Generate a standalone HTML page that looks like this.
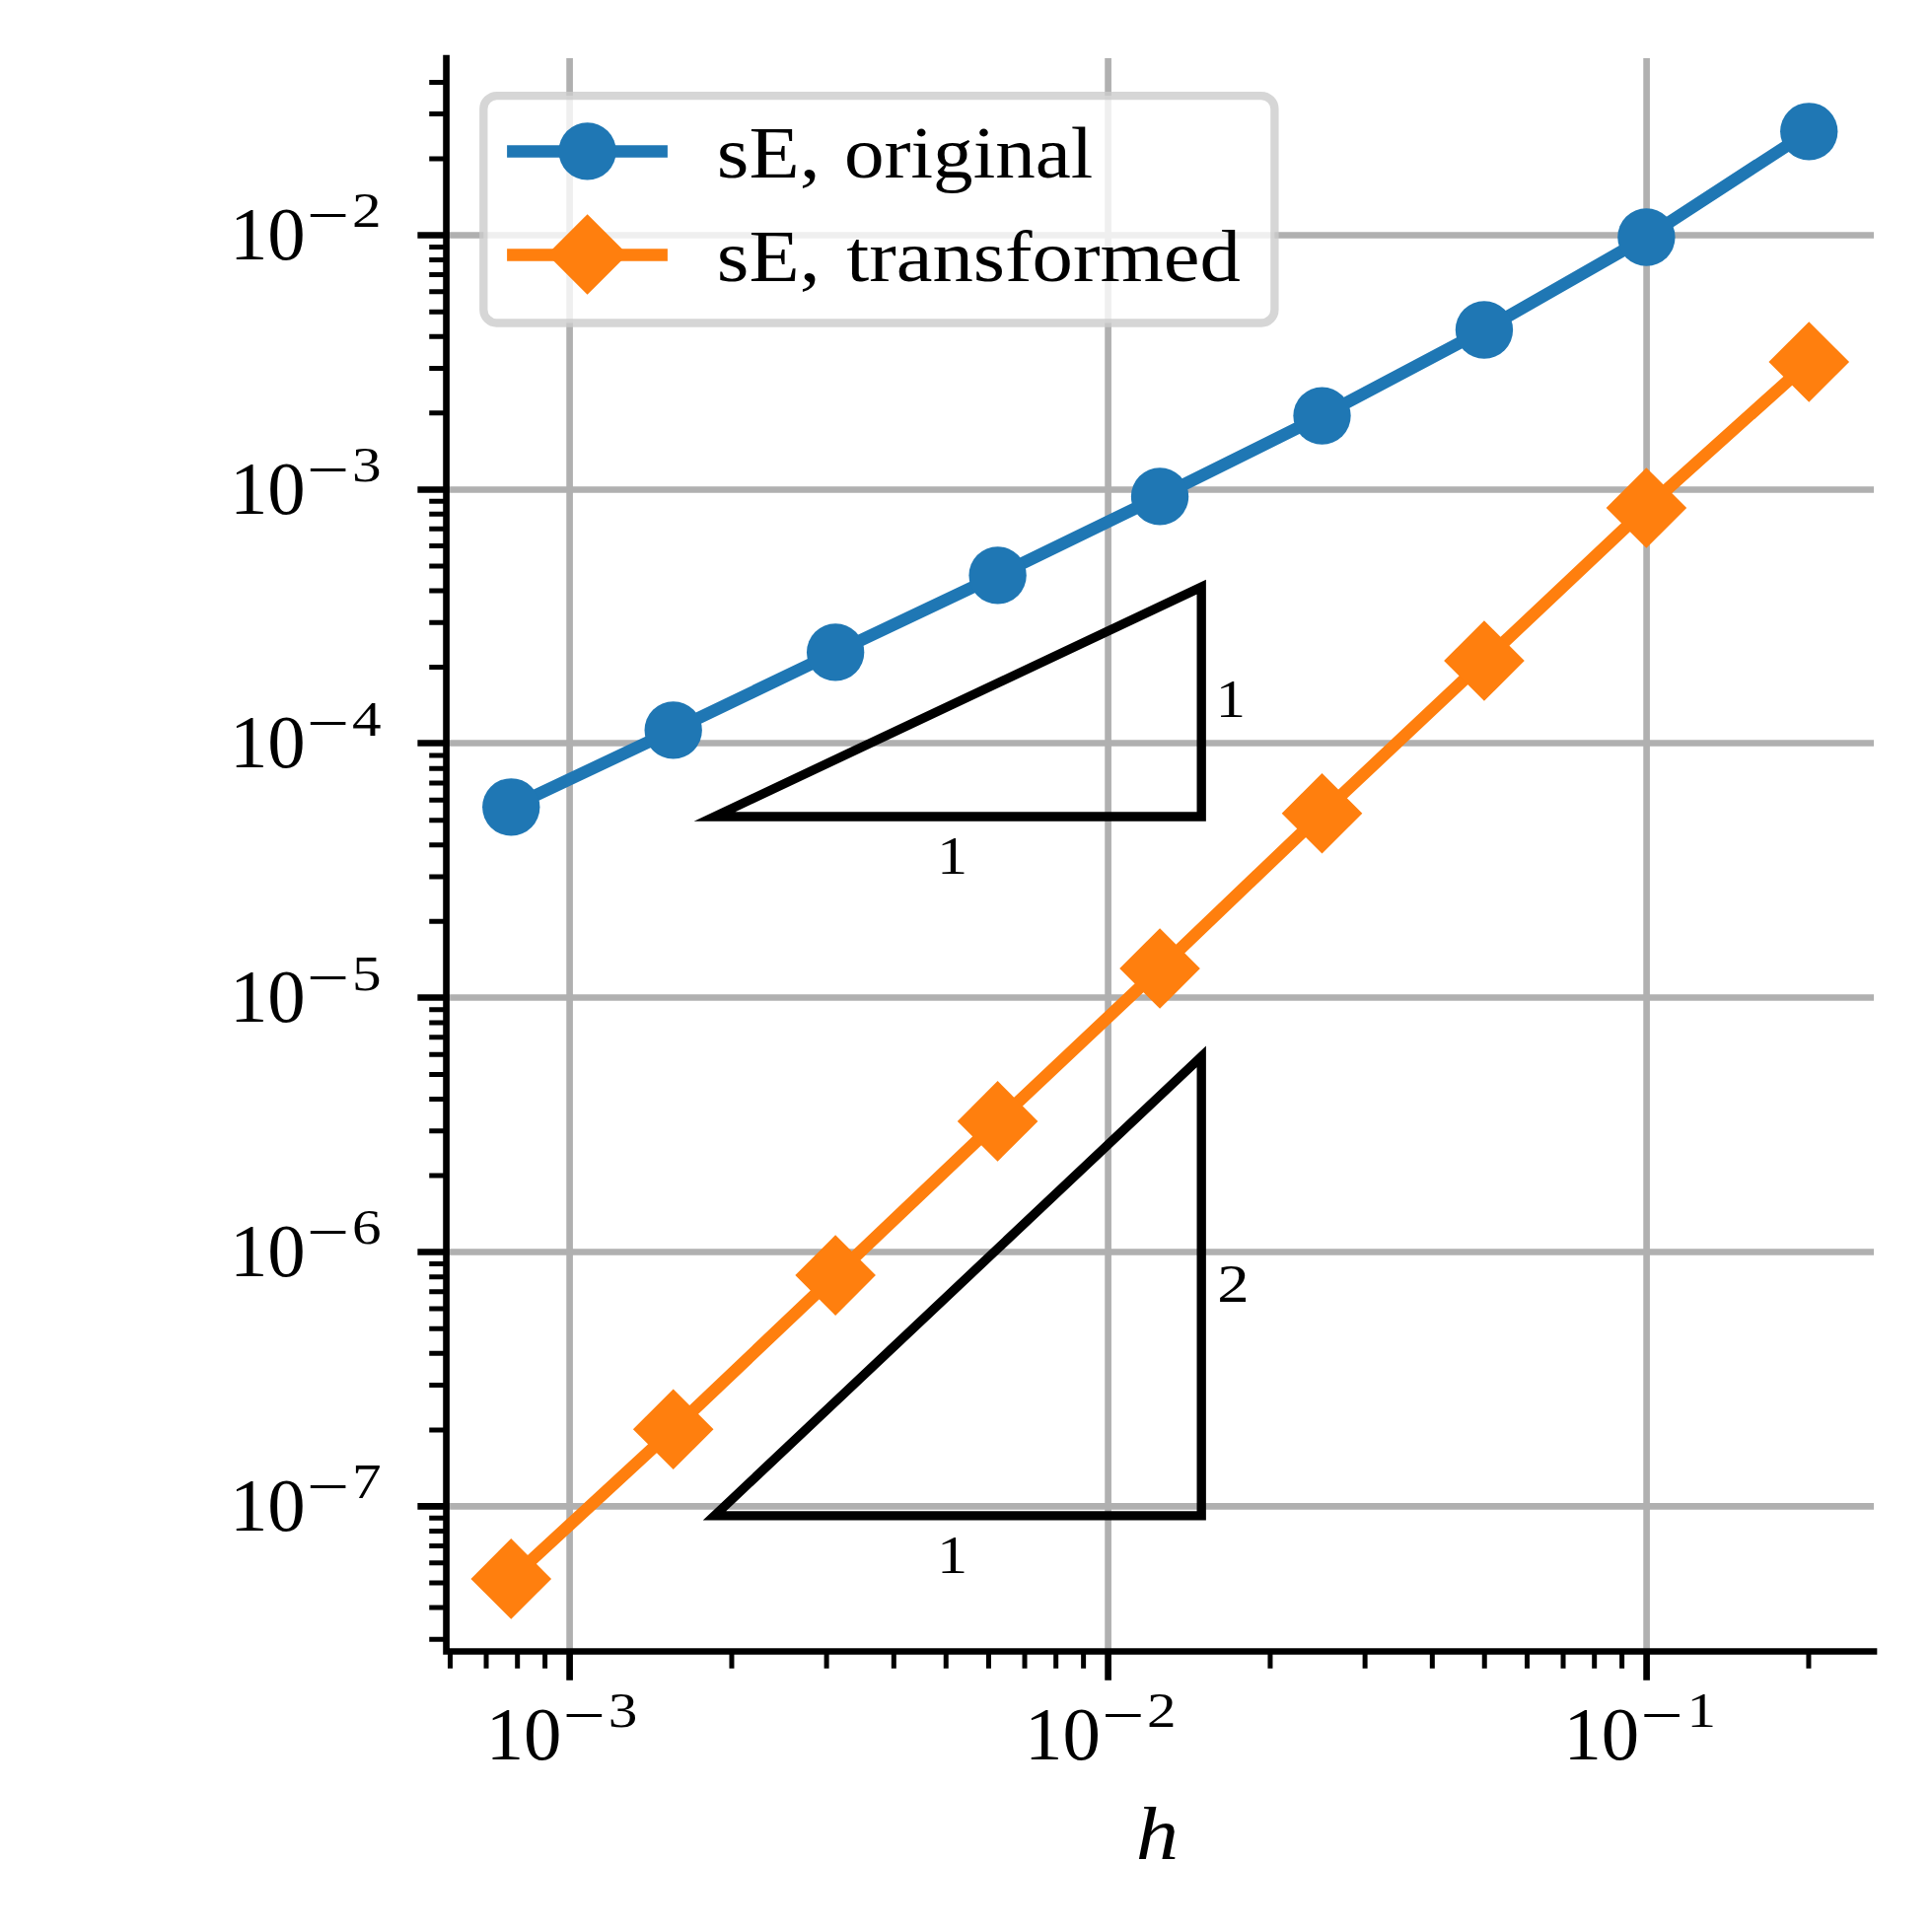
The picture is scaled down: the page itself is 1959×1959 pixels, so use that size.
<!DOCTYPE html>
<html lang="en"><head><meta charset="utf-8"><title>Convergence plot</title>
<style>html,body{margin:0;padding:0;background:#fff;overflow:hidden}svg{display:block}text{white-space:pre}</style>
</head><body>
<svg width="1959" height="1959" viewBox="0 0 1959 1959">
<rect width="1959" height="1959" fill="#fff"/>
<path d="M577.60 59.0V1674.5M1123.60 59.0V1674.5M1669.60 59.0V1674.5M452.55 1527.40H1900.0M452.55 1269.50H1900.0M452.55 1011.50H1900.0M452.55 753.50H1900.0M452.55 496.50H1900.0M452.55 238.50H1900.0" stroke="#b0b0b0" stroke-width="6.67" fill="none"/>
<path d="M724.5 828.0L1218.2 828.0L1218.2 595.2Z" fill="none" stroke="#000" stroke-width="9.35" stroke-linejoin="miter" stroke-miterlimit="20"/>
<path d="M724.5 1536.9L1218.2 1536.9L1218.2 1071.3Z" fill="none" stroke="#000" stroke-width="9.35" stroke-linejoin="miter" stroke-miterlimit="20"/>
<polyline points="1834.25,133.30 1669.40,240.50 1504.95,334.50 1340.50,421.60 1176.05,503.40 1011.60,583.40 847.15,661.40 682.70,740.40 518.25,818.30" fill="none" stroke="#1f77b4" stroke-width="12.5" stroke-linejoin="round" stroke-linecap="square"/>
<circle cx="1834.25" cy="133.30" r="29.17" fill="#1f77b4"/>
<circle cx="1669.40" cy="240.50" r="29.17" fill="#1f77b4"/>
<circle cx="1504.95" cy="334.50" r="29.17" fill="#1f77b4"/>
<circle cx="1340.50" cy="421.60" r="29.17" fill="#1f77b4"/>
<circle cx="1176.05" cy="503.40" r="29.17" fill="#1f77b4"/>
<circle cx="1011.60" cy="583.40" r="29.17" fill="#1f77b4"/>
<circle cx="847.15" cy="661.40" r="29.17" fill="#1f77b4"/>
<circle cx="682.70" cy="740.40" r="29.17" fill="#1f77b4"/>
<circle cx="518.25" cy="818.30" r="29.17" fill="#1f77b4"/>
<polyline points="1834.25,367.00 1669.40,515.00 1504.95,670.00 1340.50,824.70 1176.05,982.00 1011.60,1136.90 847.15,1293.10 682.70,1449.30 518.25,1600.90" fill="none" stroke="#ff7f0e" stroke-width="12.5" stroke-linejoin="round" stroke-linecap="square"/>
<path d="M1834.25 326.20L1875.05 367.00L1834.25 407.80L1793.45 367.00Z" fill="#ff7f0e"/>
<path d="M1669.40 474.20L1710.20 515.00L1669.40 555.80L1628.60 515.00Z" fill="#ff7f0e"/>
<path d="M1504.95 629.20L1545.75 670.00L1504.95 710.80L1464.15 670.00Z" fill="#ff7f0e"/>
<path d="M1340.50 783.90L1381.30 824.70L1340.50 865.50L1299.70 824.70Z" fill="#ff7f0e"/>
<path d="M1176.05 941.20L1216.85 982.00L1176.05 1022.80L1135.25 982.00Z" fill="#ff7f0e"/>
<path d="M1011.60 1096.10L1052.40 1136.90L1011.60 1177.70L970.80 1136.90Z" fill="#ff7f0e"/>
<path d="M847.15 1252.30L887.95 1293.10L847.15 1333.90L806.35 1293.10Z" fill="#ff7f0e"/>
<path d="M682.70 1408.50L723.50 1449.30L682.70 1490.10L641.90 1449.30Z" fill="#ff7f0e"/>
<path d="M518.25 1560.10L559.05 1600.90L518.25 1641.70L477.45 1600.90Z" fill="#ff7f0e"/>
<path d="M452.55 55.66V1677.84M449.22 1674.5H1903.34" stroke="#000" stroke-width="6.67" fill="none"/>
<path d="M577.60 1674.5v29.17M1123.60 1674.5v29.17M1669.60 1674.5v29.17M452.55 1527.40h-29.17M452.55 1269.50h-29.17M452.55 1011.50h-29.17M452.55 753.50h-29.17M452.55 496.50h-29.17M452.55 238.50h-29.17" stroke="#000" stroke-width="6.67" fill="none"/>
<path d="M456.47 1674.5v17.3M493.02 1674.5v17.3M524.69 1674.5v17.3M552.62 1674.5v17.3M741.96 1674.5v17.3M838.11 1674.5v17.3M906.32 1674.5v17.3M959.24 1674.5v17.3M1002.47 1674.5v17.3M1039.02 1674.5v17.3M1070.69 1674.5v17.3M1098.62 1674.5v17.3M1287.96 1674.5v17.3M1384.11 1674.5v17.3M1452.32 1674.5v17.3M1505.24 1674.5v17.3M1548.47 1674.5v17.3M1585.02 1674.5v17.3M1616.69 1674.5v17.3M1644.62 1674.5v17.3M1833.96 1674.5v17.3M452.55 1662.29h-17.3M452.55 1630.08h-17.3M452.55 1605.10h-17.3M452.55 1584.69h-17.3M452.55 1567.43h-17.3M452.55 1552.48h-17.3M452.55 1539.30h-17.3M452.55 1449.90h-17.3M452.55 1404.51h-17.3M452.55 1372.30h-17.3M452.55 1347.32h-17.3M452.55 1326.91h-17.3M452.55 1309.65h-17.3M452.55 1294.70h-17.3M452.55 1281.52h-17.3M452.55 1192.12h-17.3M452.55 1146.73h-17.3M452.55 1114.52h-17.3M452.55 1089.54h-17.3M452.55 1069.13h-17.3M452.55 1051.87h-17.3M452.55 1036.92h-17.3M452.55 1023.74h-17.3M452.55 934.34h-17.3M452.55 888.95h-17.3M452.55 856.74h-17.3M452.55 831.76h-17.3M452.55 811.35h-17.3M452.55 794.09h-17.3M452.55 779.14h-17.3M452.55 765.96h-17.3M452.55 676.56h-17.3M452.55 631.17h-17.3M452.55 598.96h-17.3M452.55 573.98h-17.3M452.55 553.57h-17.3M452.55 536.31h-17.3M452.55 521.36h-17.3M452.55 508.18h-17.3M452.55 418.78h-17.3M452.55 373.39h-17.3M452.55 341.18h-17.3M452.55 316.20h-17.3M452.55 295.79h-17.3M452.55 278.53h-17.3M452.55 263.58h-17.3M452.55 250.40h-17.3M452.55 161.00h-17.3M452.55 115.61h-17.3M452.55 83.40h-17.3" stroke="#000" stroke-width="5.0" fill="none"/>
<g style="font-family:'Liberation Serif','DejaVu Serif',serif;">
<text transform="matrix(0.76800 0 0 0.77000 492.68 1783.70)" font-size="100" fill="#000" style="">10</text><text transform="matrix(0.76559 0 0 0.62000 570.87 1759.61)" font-size="100" fill="#000" style="">−</text><text transform="matrix(0.59150 0 0 0.50260 616.69 1751.40)" font-size="100" fill="#000" style="">3</text>
<text transform="matrix(0.76800 0 0 0.77000 1038.98 1783.70)" font-size="100" fill="#000" style="">10</text><text transform="matrix(0.76559 0 0 0.62000 1117.17 1759.61)" font-size="100" fill="#000" style="">−</text><text transform="matrix(0.59150 0 0 0.50260 1162.99 1751.40)" font-size="100" fill="#000" style="">2</text>
<text transform="matrix(0.76800 0 0 0.77000 1585.38 1783.70)" font-size="100" fill="#000" style="">10</text><text transform="matrix(0.76559 0 0 0.62000 1663.57 1759.61)" font-size="100" fill="#000" style="">−</text><text transform="matrix(0.59150 0 0 0.50260 1710.39 1751.40)" font-size="100" fill="#000" style="">1</text>
<text transform="matrix(0.76800 0 0 0.77000 232.88 1551.60)" font-size="100" fill="#000" style="">10</text><text transform="matrix(0.76559 0 0 0.62000 311.07 1527.51)" font-size="100" fill="#000" style="">−</text><text transform="matrix(0.59150 0 0 0.50260 356.89 1519.30)" font-size="100" fill="#000" style="">7</text>
<text transform="matrix(0.76800 0 0 0.77000 232.88 1293.76)" font-size="100" fill="#000" style="">10</text><text transform="matrix(0.76559 0 0 0.62000 311.07 1269.67)" font-size="100" fill="#000" style="">−</text><text transform="matrix(0.59150 0 0 0.50260 356.89 1261.46)" font-size="100" fill="#000" style="">6</text>
<text transform="matrix(0.76800 0 0 0.77000 232.88 1035.87)" font-size="100" fill="#000" style="">10</text><text transform="matrix(0.76559 0 0 0.62000 311.07 1011.78)" font-size="100" fill="#000" style="">−</text><text transform="matrix(0.59150 0 0 0.50260 356.89 1003.57)" font-size="100" fill="#000" style="">5</text>
<text transform="matrix(0.76800 0 0 0.77000 232.88 777.98)" font-size="100" fill="#000" style="">10</text><text transform="matrix(0.76559 0 0 0.62000 311.07 753.89)" font-size="100" fill="#000" style="">−</text><text transform="matrix(0.59150 0 0 0.50260 356.89 745.68)" font-size="100" fill="#000" style="">4</text>
<text transform="matrix(0.76800 0 0 0.77000 232.88 520.59)" font-size="100" fill="#000" style="">10</text><text transform="matrix(0.76559 0 0 0.62000 311.07 496.51)" font-size="100" fill="#000" style="">−</text><text transform="matrix(0.59150 0 0 0.50260 356.89 488.29)" font-size="100" fill="#000" style="">3</text>
<text transform="matrix(0.76800 0 0 0.77000 232.88 262.70)" font-size="100" fill="#000" style="">10</text><text transform="matrix(0.76559 0 0 0.62000 311.07 238.62)" font-size="100" fill="#000" style="">−</text><text transform="matrix(0.59150 0 0 0.50260 356.89 230.40)" font-size="100" fill="#000" style="">2</text>
<text transform="matrix(0.86667 0 0 0.76691 1151.75 1884.90)" font-size="100" fill="#000" style="font-style:italic">h</text>
<text transform="matrix(0.60426 0 0 0.55152 1232.71 726.80)" font-size="100" fill="#000" style="">1</text>
<text transform="matrix(0.62411 0 0 0.55606 950.04 886.10)" font-size="100" fill="#000" style="">1</text>
<text transform="matrix(0.64750 0 0 0.55849 1234.19 1320.40)" font-size="100" fill="#000" style="">2</text>
<text transform="matrix(0.62411 0 0 0.55606 950.04 1595.00)" font-size="100" fill="#000" style="">1</text>
</g>
<rect x="490.3" y="97.05" width="802.10" height="230.45" rx="13.5" ry="13.5" fill="#fff" fill-opacity="0.8" stroke="#ccc" stroke-opacity="0.8" stroke-width="8.33"/>
<path d="M520.35 153.4H670.65" stroke="#1f77b4" stroke-width="12.5" stroke-linecap="square"/>
<circle cx="595.6" cy="153.4" r="29.17" fill="#1f77b4"/>
<path d="M520.35 258.6H670.65" stroke="#ff7f0e" stroke-width="12.5" stroke-linecap="square"/>
<path d="M595.60 217.20L636.40 258.00L595.60 298.80L554.80 258.00Z" fill="#ff7f0e"/>
<g style="font-family:'Liberation Serif','DejaVu Serif',serif;">
<text transform="matrix(0.83922 0 0 0.74300 726.74 180.00)" font-size="100" fill="#000" style="">sE, </text>
<text transform="matrix(0.81179 0 0 0.74300 855.96 180.00)" font-size="100" fill="#000" style="">original</text>
<text transform="matrix(0.83922 0 0 0.74300 726.74 285.00)" font-size="100" fill="#000" style="">sE, </text>
<text transform="matrix(0.82744 0 0 0.74300 858.17 285.00)" font-size="100" fill="#000" style="">transformed</text>
</g>
</svg>
</body></html>
